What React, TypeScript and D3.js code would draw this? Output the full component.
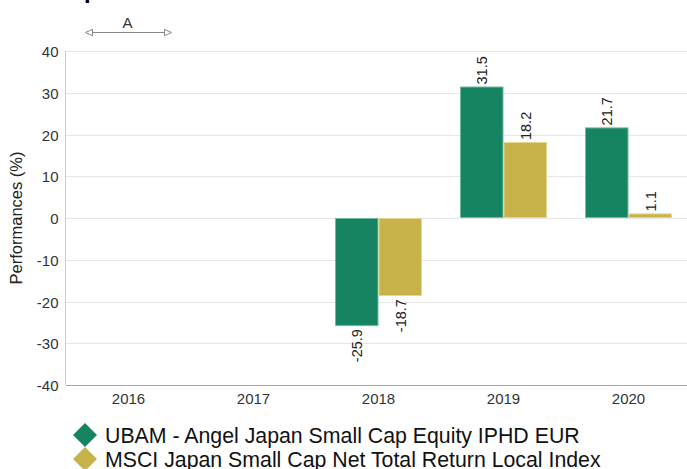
import React from "react";
import * as d3 from "d3";

const categories = ["2016", "2017", "2018", "2019", "2020"];
const seriesNames = [
  "UBAM - Angel Japan Small Cap Equity IPHD EUR",
  "MSCI Japan Small Cap Net Total Return Local Index",
];
const fundValues: (number | null)[] = [null, null, -25.9, 31.5, 21.7];
const indexValues: (number | null)[] = [null, null, -18.7, 18.2, 1.1];
const yTicks = [-40, -30, -20, -10, 0, 10, 20, 30, 40];
const colors = ["#168463", "#c7b349"];
const strokes = ["#6fbba2", "#e3d68f"];

const W = 687;
const H = 469;
const M = { left: 66, top: 51, right: 691, bottom: 385 };

export default function App() {
  const x0 = d3.scaleBand<string>().domain(categories).range([M.left, M.right]);
  const bw = 87;
  const inner = d3.scaleBand<number>().domain([0, 1]).range([0, bw]).padding(0);
  const y = d3.scaleLinear().domain([-40, 40]).range([M.bottom, M.top]);
  const series = [fundValues, indexValues];

  return (
    <svg width={W} height={H} style={{ position: "absolute", left: 0, top: 0, fontFamily: "Arial, 'Liberation Sans', sans-serif" }}>
      <text x={84} y={-2} fontSize={24} fontWeight="bold" fill="#000">p</text>
      {/* annotation */}
      <g>
        <line x1={88} x2={169} y1={32.5} y2={32.5} stroke="#888" strokeWidth={1} />
        <path d="M85.5,32.5 L92.5,29.3 L92.5,35.7 Z" fill="#fff" stroke="#888" />
        <path d="M171.5,32.5 L164.5,29.3 L164.5,35.7 Z" fill="#fff" stroke="#888" />
        <text x={127.5} y={27.7} textAnchor="middle" fontSize={15} fill="#333">A</text>
      </g>
      {/* grid */}
      {yTicks.map((t) => (
        <g key={t}>
          {t !== -40 && (
            <line x1={M.left} x2={W} y1={Math.round(y(t)) + 0.5} y2={Math.round(y(t)) + 0.5} stroke="#e6e6e6" />
          )}
          <text x={58.5} y={y(t) + 6} textAnchor="end" fontSize={15} fill="#333">{t}</text>
        </g>
      ))}
      <line x1={M.left - 0.5} x2={M.left - 0.5} y1={M.top} y2={M.bottom} stroke="#ccc" />
      <line x1={M.left} x2={W} y1={M.bottom + 0.5} y2={M.bottom + 0.5} stroke="#a6a6a6" />
      {categories.map((c) => (
        <text key={c} x={x0(c)! + x0.bandwidth() / 2} y={404} textAnchor="middle" fontSize={15} fill="#333">{c}</text>
      ))}
      <text transform={`translate(22,${y(0)}) rotate(-90)`} textAnchor="middle" fontSize={16.5} fill="#222">Performances (%)</text>
      {/* bars */}
      {series.map((vals, si) =>
        vals.map((v, ci) => {
          if (v == null) return null;
          const c = categories[ci];
          const bx = x0(c)! + (x0.bandwidth() - bw) / 2 + inner(si)!;
          const w = inner.bandwidth();
          const y1 = Math.min(y(v), y(0));
          const h = Math.abs(y(v) - y(0));
          const lx = bx + w / 2;
          const ly = v >= 0 ? y(v) - 2 : y(v) + 3;
          return (
            <g key={`${si}-${ci}`}>
              <rect x={bx + 0.5} y={y1 + 0.5} width={w - 1} height={Math.max(h - 1, 1)} fill={colors[si]} stroke={strokes[si]} strokeWidth={1} />
              <text transform={`translate(${lx + 5.3},${ly}) rotate(-90)`} textAnchor={v >= 0 ? "start" : "end"} fontSize={14.5} fill="#222">{v.toFixed(1)}</text>
            </g>
          );
        })
      )}
      {/* legend */}
      {seriesNames.map((n, i) => (
        <g key={n} transform={`translate(0,${435 + i * 24})`}>
          <path d="M85,-12 L97,0 L85,12 L73,0 Z" fill={colors[i]} />
          <text x={105} y={8} fontSize={21.3} fill="#111">{n}</text>
        </g>
      ))}
    </svg>
  );
}
